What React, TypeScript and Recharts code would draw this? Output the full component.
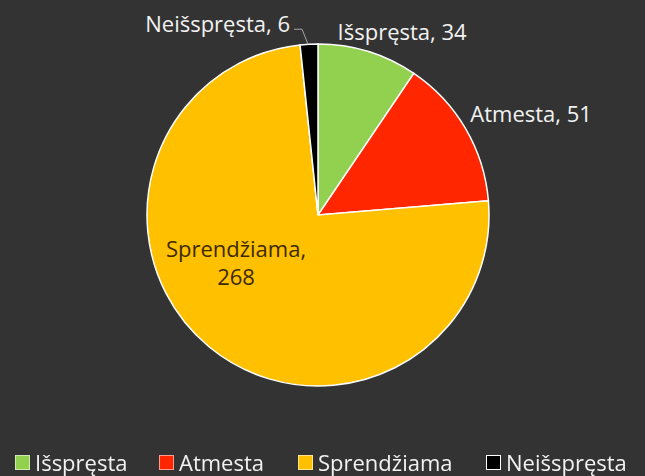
import React from "react";
import { PieChart, Pie, Cell, Legend } from "recharts";

const categories = ["Išspręsta", "Atmesta", "Sprendžiama", "Neišspręsta"];
const values = [34, 51, 268, 6];
const colors = ["#92D050", "#FF2600", "#FFC000", "#000000"];

const data = categories.map((name, i) => ({ name, value: values[i] }));

const FONT = "'Open Sans', 'Noto Sans', sans-serif";
const RAD = Math.PI / 180;
const LABEL_SIZE = 22;

const renderLabel = (props: any) => {
  const { cx, cy, midAngle, outerRadius, index } = props;
  const sin = Math.sin(-midAngle * RAD);
  const cos = Math.cos(-midAngle * RAD);
  const ox = cx + outerRadius * cos;
  const oy = cy + outerRadius * sin;
  const name = categories[index];
  const val = values[index];
  if (index === 0) {
    return (
      <text x={ox + 34} y={oy - 12} fill="#F2F2F2" fontSize={LABEL_SIZE} fontFamily={FONT} textAnchor="middle">
        {`${name}, ${val}`}
      </text>
    );
  }
  if (index === 1) {
    return (
      <text x={ox + 65.5} y={oy - 6.5} fill="#F2F2F2" fontSize={LABEL_SIZE} fontFamily={FONT} textAnchor="middle">
        {`${name}, ${val}`}
      </text>
    );
  }
  if (index === 2) {
    const ix = cx + outerRadius * 0.55 * cos - 22;
    const iy = cy + outerRadius * 0.55 * sin - 30.5;
    return (
      <text x={ix} y={iy} fill="#3D2A00" fontSize={LABEL_SIZE} fontFamily={FONT} textAnchor="middle">
        <tspan x={ix} dy={0}>{`${name},`}</tspan>
        <tspan x={ix} dy={28}>{`${val}`}</tspan>
      </text>
    );
  }
  return (
    <g>
      <polyline
        points={`${ox - 1},${oy} ${ox - 7},${oy - 15} ${ox - 15},${oy - 15}`}
        fill="none"
        stroke="#A6A6A6"
        strokeWidth={1}
      />
      <text x={ox - 19} y={oy - 12} fill="#F2F2F2" fontSize={LABEL_SIZE} fontFamily={FONT} textAnchor="end">
        {`${name}, ${val}`}
      </text>
    </g>
  );
};

const legendSquareX = [15, 159, 298, 486];

const renderLegend = () => (
  <div style={{ position: "relative", width: 645, height: 30, fontFamily: FONT, fontSize: 22, color: "#F2F2F2" }}>
    {categories.map((c, i) => (
      <React.Fragment key={c}>
        <span
          style={{
            position: "absolute",
            left: legendSquareX[i],
            top: 10,
            width: 13,
            height: 13,
            background: colors[i],
            border: "1px solid " + (i === 3 ? "#FFFFFF" : "rgba(255,255,255,0.55)"),
          }}
        />
        <span style={{ position: "absolute", left: legendSquareX[i] + 20, top: 5, lineHeight: "24px", whiteSpace: "nowrap" }}>
          {c}
        </span>
      </React.Fragment>
    ))}
  </div>
);

export default function App() {
  return (
    <div style={{ position: "fixed", left: 0, top: 0, width: 645, height: 476, background: "#333333" }}>
      <PieChart width={645} height={476} margin={{ top: 0, right: 0, bottom: 0, left: 0 }}>
        <Pie
          data={data}
          dataKey="value"
          nameKey="name"
          cx={318}
          cy={215}
          outerRadius={171}
          startAngle={90}
          endAngle={-270}
          stroke="#FFFFFF"
          strokeWidth={1.5}
          label={renderLabel}
          labelLine={false}
          isAnimationActive={false}
        >
          {data.map((d, i) => (
            <Cell key={d.name} fill={colors[i]} />
          ))}
        </Pie>
        <Legend content={renderLegend} wrapperStyle={{ position: "absolute", top: 445, left: 0, width: 645, height: 30 }} />
      </PieChart>
    </div>
  );
}
